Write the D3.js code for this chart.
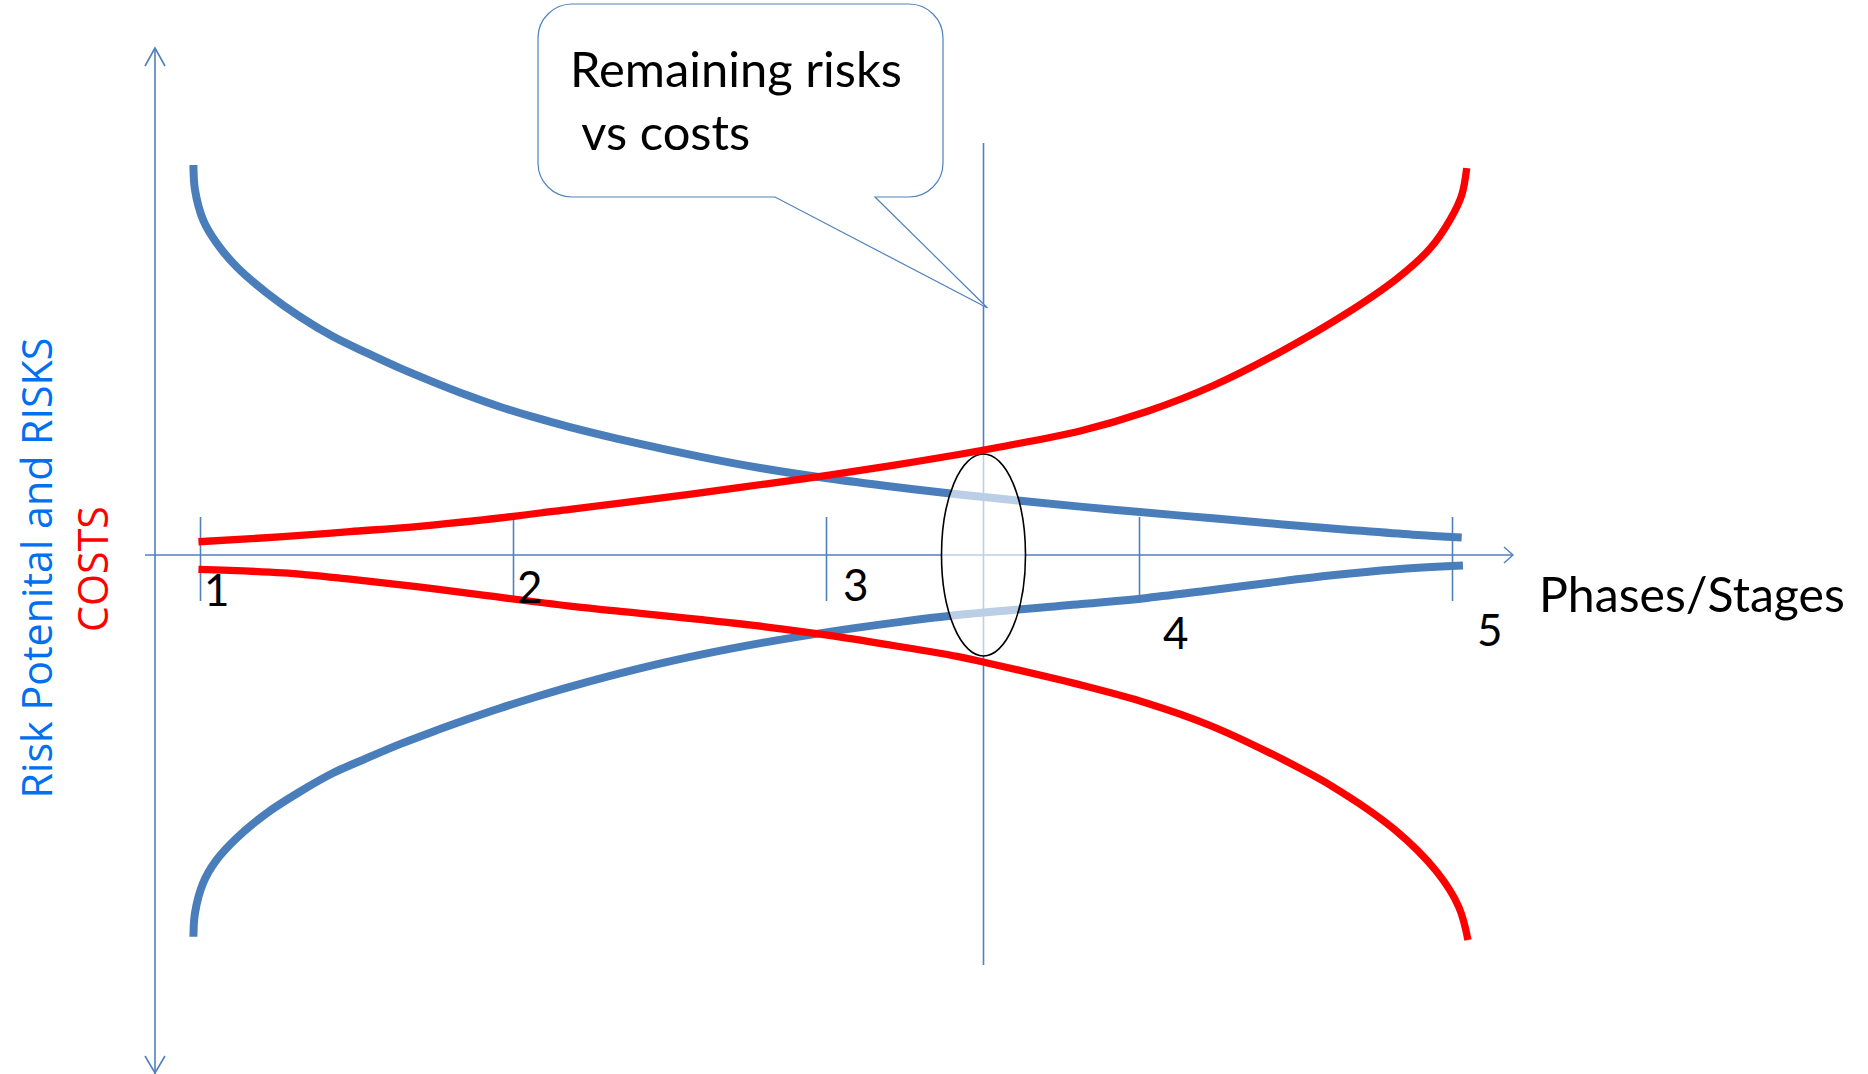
<!DOCTYPE html>
<html>
<head>
<meta charset="utf-8">
<script src="https://cdn.jsdelivr.net/npm/d3@7"></script>
<style>
body { margin: 0; background: #fff; }
</style>
</head>
<body>
<div id="chart"></div>
<script>
// phases on the x axis
var phases = [1, 2, 3, 4, 5];
var phaseLabels = ["1", "2", "3", "4", "5"];
var currentPhase = 3.5;

// risk potential (blue), upper and mirrored lower branch
var riskTopPhase = [0.979, 0.984, 1.010, 1.053, 1.117, 1.213, 1.319, 1.425, 1.533, 1.639, 1.744, 1.852, 1.958, 2.064, 2.182, 2.399, 2.604, 2.805, 3.010, 3.214, 3.419, 3.812, 4.003, 4.236, 4.450, 4.664, 4.875, 5.031];
var riskTop = [100.0, 93.6, 85.9, 80.0, 73.9, 67.2, 61.1, 56.0, 51.8, 47.9, 44.4, 41.0, 38.0, 35.4, 32.8, 28.6, 25.1, 22.1, 19.6, 17.5, 15.6, 12.4, 11.0, 9.4, 7.9, 6.5, 5.2, 4.5];
var riskBottomPhase = [0.979, 0.984, 1.010, 1.053, 1.117, 1.213, 1.319, 1.425, 1.533, 1.639, 1.744, 1.852, 1.958, 2.064, 2.182, 2.399, 2.604, 2.805, 3.010, 3.214, 3.419, 3.827, 4.026, 4.224, 4.419, 4.617, 4.815, 5.035];
var riskBottom = [-97.9, -91.8, -84.1, -78.2, -72.6, -66.2, -60.7, -55.9, -52.1, -48.5, -45.3, -42.2, -39.3, -36.6, -33.8, -29.2, -25.5, -22.4, -19.7, -17.4, -15.4, -12.5, -11.0, -9.1, -7.1, -5.2, -3.7, -2.7];

// costs (red), upper and lower branch
var costTopPhase = [0.995, 1.265, 1.479, 1.692, 1.904, 2.182, 2.399, 2.604, 2.805, 3.010, 3.214, 3.419, 3.556, 3.812, 4.025, 4.236, 4.450, 4.664, 4.823, 4.930, 4.994, 5.031, 5.047];
var costTop = [3.4, 4.7, 6.0, 7.3, 9.0, 11.7, 13.9, 16.0, 18.2, 20.5, 23.0, 25.7, 27.7, 31.8, 36.8, 43.4, 52.0, 62.0, 70.8, 78.6, 86.0, 92.3, 99.2];
var costBottomPhase = [0.995, 1.265, 1.479, 1.692, 1.904, 2.182, 2.399, 2.604, 2.805, 3.010, 3.214, 3.419, 3.505, 3.827, 4.026, 4.224, 4.419, 4.617, 4.815, 4.952, 5.022, 5.051];
var costBottom = [-3.7, -4.6, -6.2, -8.1, -10.3, -13.1, -14.9, -16.6, -18.4, -20.6, -23.2, -26.0, -27.5, -33.6, -38.0, -43.6, -50.8, -59.3, -70.3, -81.3, -90.3, -98.7];

var calloutLines = ["Remaining risks", " vs costs"];
var xTitle = "Phases/Stages";
var yTitleRisk = "Risk Potenital and RISKS";
var yTitleCost = "COSTS";

var width = 1868, height = 1074;
var axisColor = "#4F81BD";
var blue = "#4A7EBB";
var red = "#FF0000";
var calibriLike = "Lato, 'Open Sans', sans-serif";
var sideFont = "'Open Sans', 'DejaVu Sans', sans-serif";

var svg = d3.select("#chart")
    .append("svg")
    .attr("width", width)
    .attr("height", height);

var x = d3.scaleLinear().domain([1, 5]).range([200, 1452]);
var y = d3.scaleLinear().domain([-100, 100]).range([945, 165]);
var y0 = y(0);

function zipPts(px, py) {
    return px.map(function(d, i) { return [d, py[i]]; });
}
var line = d3.line()
    .x(function(d) { return x(d[0]); })
    .y(function(d) { return y(d[1]); })
    .curve(d3.curveCatmullRom.alpha(0.5));

// fit a text to a given width, returns font size
function fit(t, w) {
    t.attr("font-size", 40);
    var l = t.node().getComputedTextLength();
    var fs = 40 * w / l;
    t.attr("font-size", fs);
    return fs;
}

// vertical (value) axis with arrows at both ends
var yAxisX = 155;
svg.append("line")
    .attr("x1", yAxisX).attr("x2", yAxisX)
    .attr("y1", 48).attr("y2", 1074)
    .attr("stroke", axisColor).attr("stroke-width", 1.6);
svg.append("path")
    .attr("d", "M" + (yAxisX - 10) + ",66 L" + yAxisX + ",48 L" + (yAxisX + 10) + ",66")
    .attr("fill", "none").attr("stroke", axisColor).attr("stroke-width", 1.6);
svg.append("path")
    .attr("d", "M" + (yAxisX - 10) + ",1056 L" + yAxisX + ",1073 L" + (yAxisX + 10) + ",1056")
    .attr("fill", "none").attr("stroke", axisColor).attr("stroke-width", 1.6);

// phase axis
var xAxis = d3.axisBottom(x)
    .tickValues(phases)
    .tickSize(46)
    .tickSizeOuter(0)
    .tickFormat("");
var gx = svg.append("g")
    .attr("class", "axis")
    .attr("transform", "translate(0," + y0 + ")")
    .call(xAxis);
gx.select(".domain").remove();
gx.selectAll(".tick line")
    .attr("y1", -38)
    .attr("stroke", axisColor)
    .attr("stroke-width", 1.6);
svg.append("line")
    .attr("x1", 145).attr("x2", 1512)
    .attr("y1", y0).attr("y2", y0)
    .attr("stroke", axisColor).attr("stroke-width", 1.6);
svg.append("path")
    .attr("d", "M1504," + (y0 - 8) + " L1513," + y0 + " L1504," + (y0 + 8))
    .attr("fill", "none").attr("stroke", axisColor).attr("stroke-width", 1.4);

// current phase marker line
svg.append("line")
    .attr("x1", x(currentPhase) + 1).attr("x2", x(currentPhase) + 1)
    .attr("y1", 143).attr("y2", 965)
    .attr("stroke", axisColor).attr("stroke-width", 1.6);

// risk curves
[zipPts(riskTopPhase, riskTop), zipPts(riskBottomPhase, riskBottom)].forEach(function(pts) {
    svg.append("path")
        .attr("d", line(pts))
        .attr("fill", "none")
        .attr("stroke", blue)
        .attr("stroke-width", 8);
});

// highlight ellipse at the current phase
svg.append("ellipse")
    .attr("cx", x(currentPhase) + 1)
    .attr("cy", y0)
    .attr("rx", 42)
    .attr("ry", 101)
    .attr("fill", "#fff")
    .attr("fill-opacity", 0.62)
    .attr("stroke", "#000")
    .attr("stroke-width", 1.6);

// cost curves
[zipPts(costTopPhase, costTop), zipPts(costBottomPhase, costBottom)].forEach(function(pts) {
    svg.append("path")
        .attr("d", line(pts))
        .attr("fill", "none")
        .attr("stroke", red)
        .attr("stroke-width", 7.3);
});

// callout bubble
var bx0 = 538, by0 = 4, bx1 = 943, by1 = 197, r = 34;
var tipX = x(currentPhase) + 5, tipY = 308;
var bubble = "M" + (bx0 + r) + "," + by0 +
    " H" + (bx1 - r) +
    " A" + r + "," + r + " 0 0 1 " + bx1 + "," + (by0 + r) +
    " V" + (by1 - r) +
    " A" + r + "," + r + " 0 0 1 " + (bx1 - r) + "," + by1 +
    " H875 L" + tipX + "," + tipY + " L775," + by1 +
    " H" + (bx0 + r) +
    " A" + r + "," + r + " 0 0 1 " + bx0 + "," + (by1 - r) +
    " V" + (by0 + r) +
    " A" + r + "," + r + " 0 0 1 " + (bx0 + r) + "," + by0 + " Z";
svg.append("path")
    .attr("d", bubble)
    .attr("fill", "#fff")
    .attr("stroke", axisColor)
    .attr("stroke-width", 1.2);

var t1 = svg.append("text")
    .attr("x", 570).attr("y", 87)
    .attr("font-family", calibriLike)
    .attr("fill", "#000")
    .text(calloutLines[0]);
var fs = fit(t1, 332);
svg.append("text")
    .attr("x", 570).attr("y", 150)
    .attr("font-family", calibriLike)
    .attr("font-size", fs)
    .attr("fill", "#000")
    .attr("xml:space", "preserve")
    .style("white-space", "pre")
    .text(calloutLines[1]);

// phase axis title
var tx = svg.append("text")
    .attr("x", 1539).attr("y", 612)
    .attr("font-family", calibriLike)
    .attr("fill", "#000")
    .text(xTitle);
fit(tx, 306);

// tick labels, nudged like the hand placed boxes of the original
var labelNudge = [[4, 51], [4, 48], [17, 46], [24, 94], [25, 91]];
svg.selectAll(".phaseLabel")
    .data(phaseLabels)
    .enter()
    .append("text")
    .attr("class", "phaseLabel")
    .attr("x", function(d, i) { return x(phases[i]) + labelNudge[i][0]; })
    .attr("y", function(d, i) { return y0 + labelNudge[i][1]; })
    .attr("font-family", calibriLike)
    .attr("font-size", fs * 0.9)
    .attr("fill", "#000")
    .text(function(d) { return d; });

// rotated value axis titles
var ty = svg.append("text")
    .attr("transform", "translate(52,568) rotate(-90)")
    .attr("text-anchor", "middle")
    .attr("font-family", sideFont)
    .attr("fill", "#0070F0")
    .text(yTitleRisk);
var fsy = fit(ty, 461);
svg.append("text")
    .attr("transform", "translate(108,569) rotate(-90)")
    .attr("text-anchor", "middle")
    .attr("font-family", sideFont)
    .attr("font-size", fsy)
    .attr("fill", red)
    .text(yTitleCost);
</script>
</body>
</html>
